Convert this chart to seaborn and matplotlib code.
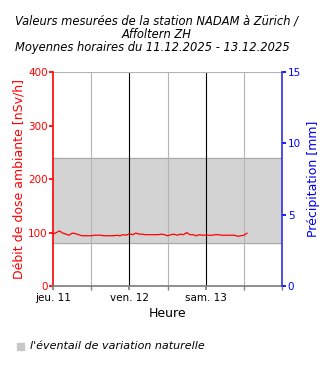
import seaborn as sns
import matplotlib.pyplot as plt
import numpy as np
import pandas as pd

sns.set_theme(style="white")
plt.rcParams['font.family'] = ['DejaVu Sans']
plt.rcParams['text.color'] = 'black'
plt.rcParams['axes.labelcolor'] = 'black'
plt.rcParams['xtick.color'] = 'black'

# Moyennes horaires (nSv/h) à partir du 11.12.2025 00:00
debit = [97, 100, 103, 99, 97, 95, 99, 98, 96, 94, 94, 94, 94, 95, 95, 95,
         94, 94, 94, 94, 95, 94, 96, 95, 98, 96, 99, 97, 97, 96, 96, 96,
         96, 96, 97, 96, 94, 96, 97, 95, 97, 96, 100, 96, 96, 94, 96, 95,
         95, 95, 95, 96, 96, 95, 95, 95, 95, 95, 93, 94, 95, 99]
heures = pd.date_range("2025-12-11 00:00", periods=len(debit), freq="h")
bande = (80, 240)
jours = ["jeu. 11", "ven. 12", "sam. 13"]

data = pd.DataFrame({"Heure": heures, "Debit": debit})

fig = plt.figure(figsize=(3.3, 3.7), dpi=100)
ax = fig.add_axes([0.161, 0.227, 0.694, 0.578])

debut = pd.Timestamp("2025-12-11")
fin = pd.Timestamp("2025-12-14")

# l'éventail de variation naturelle
ax.axhspan(bande[0], bande[1], color="#d3d3d3", zorder=0)
ax.axhline(bande[0], color="#a8a8a8", lw=0.8, zorder=1)
ax.axhline(bande[1], color="#a8a8a8", lw=0.8, zorder=1)

# lignes verticales: gris toutes les 12 h, noir à minuit
for i in range(1, 6):
    t = debut + pd.Timedelta(hours=12 * i)
    c = "black" if i % 2 == 0 else "#b4b4b4"
    ax.axvline(t, color=c, lw=0.8, zorder=1)
ax.axhline(400, color="#b4b4b4", lw=0.8, zorder=1)

sns.lineplot(data=data, x="Heure", y="Debit", color="red", lw=0.9, ax=ax, zorder=3)

ax.set_xlim(debut, fin)
ax.set_ylim(0, 400)
ax.set_yticks([0, 100, 200, 300, 400])
ax.set_xticks([debut + pd.Timedelta(days=d) for d in range(3)])
ax.set_xticklabels(jours, fontsize=7.5)
ax.set_xticks([debut + pd.Timedelta(hours=12 * i) for i in range(7)], minor=True)
ax.tick_params(axis="x", which="both", length=3, color="#808080", labelcolor="black",
               direction="out", bottom=True, pad=2)
ax.tick_params(axis="y", colors="red", labelsize=7.5, length=3, left=True, pad=1)
ax.set_xlabel("Heure", fontsize=9, labelpad=3)
ax.set_ylabel("Débit de dose ambiante [nSv/h]", color="red", fontsize=9, labelpad=2)

for s in ["top", "right"]:
    ax.spines[s].set_visible(False)
ax.spines["bottom"].set_color("#808080")
ax.spines["left"].set_color("red")
ax.spines["left"].set_linewidth(1.2)

ax2 = ax.twinx()
ax2.set_ylim(0, 15)
ax2.set_yticks([0, 5, 10, 15])
ax2.tick_params(axis="y", colors="blue", labelsize=7.5, length=3, right=True, pad=1)
ax2.set_ylabel("Précipitation [mm]", color="blue", fontsize=9, labelpad=4)
for s in ["top", "left", "bottom"]:
    ax2.spines[s].set_visible(False)
ax2.spines["right"].set_color("#3030e0")
ax2.spines["right"].set_linewidth(1.2)
ax2.grid(False)

fig.text(0.473, 1 - 21 / 370, "Valeurs mesurées de la station NADAM à Zürich /",
         ha="center", va="center", fontsize=8.3, style="italic")
fig.text(0.473, 1 - 34 / 370, "Affoltern ZH",
         ha="center", va="center", fontsize=8.3, style="italic")
fig.text(0.463, 1 - 47 / 370, "Moyennes horaires du 11.12.2025 - 13.12.2025",
         ha="center", va="center", fontsize=8.3, style="italic")

fig.patches.append(plt.Rectangle((0.052, 0.055), 0.021, 0.018, transform=fig.transFigure,
                                 color="#c8c8c8"))
fig.text(0.09, 0.064, "l'éventail de variation naturelle", ha="left", va="center",
         fontsize=8, style="italic")

fig.savefig("out.png", dpi=100)
